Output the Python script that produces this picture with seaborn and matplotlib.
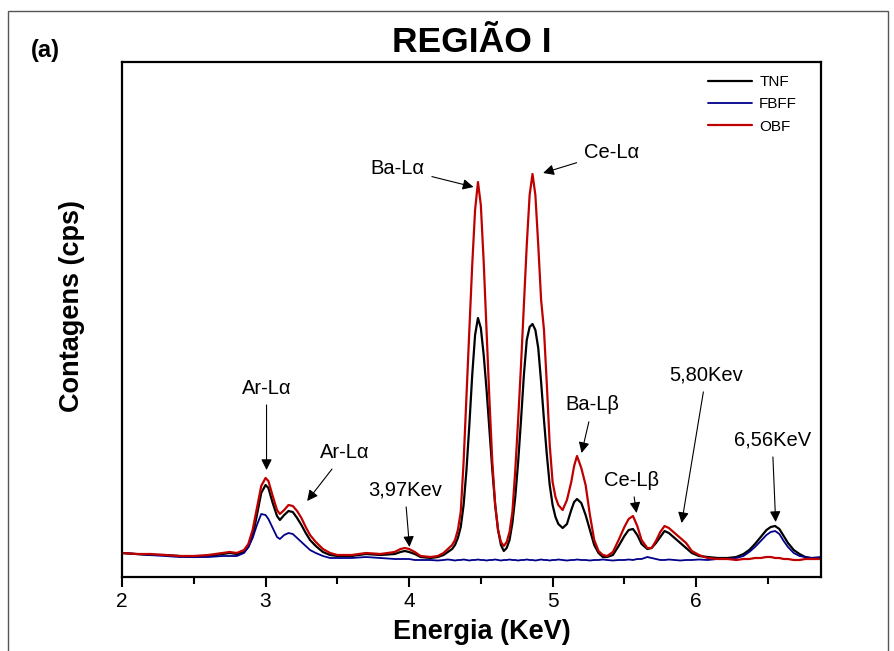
import matplotlib
matplotlib.use("Agg")
import matplotlib.pyplot as plt
import seaborn as sns
import pandas as pd
from matplotlib.patches import Rectangle
from matplotlib.ticker import MultipleLocator

# ---------------- data ----------------
energy = [2.00, 2.10, 2.20, 2.30, 2.40, 2.50, 2.60, 2.70, 2.75, 2.80,
          2.85, 2.88, 2.91, 2.94, 2.97, 3.00, 3.02, 3.05, 3.08, 3.10,
          3.13, 3.16, 3.19, 3.22, 3.25, 3.28, 3.31, 3.35, 3.40, 3.45,
          3.50, 3.60, 3.70, 3.80, 3.90, 3.94, 3.97, 4.00, 4.04, 4.08,
          4.15, 4.20, 4.24, 4.27, 4.30, 4.32, 4.34, 4.36, 4.38, 4.40,
          4.42, 4.44, 4.46, 4.48, 4.50, 4.52, 4.54, 4.56, 4.58, 4.60,
          4.62, 4.64, 4.66, 4.68, 4.70, 4.72, 4.74, 4.76, 4.78, 4.80,
          4.82, 4.84, 4.86, 4.88, 4.90, 4.92, 4.94, 4.96, 4.98, 5.00,
          5.02, 5.04, 5.07, 5.10, 5.13, 5.15, 5.17, 5.20, 5.23, 5.26,
          5.29, 5.32, 5.35, 5.38, 5.42, 5.46, 5.50, 5.53, 5.56, 5.59,
          5.62, 5.66, 5.69, 5.72, 5.75, 5.78, 5.81, 5.85, 5.89, 5.93,
          5.97, 6.02, 6.08, 6.15, 6.22, 6.28, 6.33, 6.37, 6.41, 6.45,
          6.49, 6.52, 6.55, 6.58, 6.61, 6.64, 6.68, 6.72, 6.76, 6.80,
          6.87]

tnf = [240, 230, 220, 220, 210, 200, 210, 230, 240, 230,
       250, 300, 410, 620, 840, 920, 890, 740, 610, 570,
       620, 660, 650, 590, 520, 440, 370, 310, 250, 220,
       210, 210, 230, 220, 230, 250, 260, 250, 230, 200,
       190, 200, 220, 250, 280, 320, 390, 500, 720, 1070,
       1520, 2020, 2420, 2590, 2490, 2220, 1870, 1470, 1070, 720,
       470, 320, 260, 290, 370, 540, 800, 1150, 1570, 2020,
       2370, 2500, 2530, 2470, 2290, 1950, 1570, 1220, 920, 720,
       600, 530, 490, 530, 670, 750, 780, 740, 620, 470,
       320, 240, 200, 200, 220, 310, 410, 470, 480, 420,
       330, 280, 290, 340, 400, 460, 440, 390, 340, 290,
       240, 210, 200, 190, 190, 200, 230, 270, 330, 400,
       470, 500, 510, 480, 410, 340, 270, 230, 200, 190,
       190]

fbff = [240, 230, 220, 210, 200, 200, 200, 210, 210, 210,
        240, 300, 390, 520, 630, 620, 580, 490, 400, 380,
        420, 440, 430, 390, 350, 310, 270, 240, 210, 190,
        190, 190, 200, 190, 180, 180, 180, 180, 170, 170,
        170, 165, 170, 175, 170, 165, 170, 170, 175, 170,
        165, 170, 170, 175, 170, 170, 165, 170, 170, 175,
        170, 165, 170, 170, 175, 170, 170, 165, 170, 170,
        175, 170, 170, 165, 170, 175, 170, 170, 165, 170,
        170, 175, 170, 165, 170, 170, 175, 170, 170, 165,
        170, 170, 175, 170, 165, 170, 170, 175, 170, 180,
        180, 200, 190, 180, 170, 170, 175, 170, 165, 170,
        170, 175, 170, 180, 180, 190, 210, 250, 300, 360,
        420, 450, 460, 430, 360, 300, 240, 210, 200, 190,
        200]

obf = [240, 230, 230, 220, 210, 210, 220, 240, 250, 240,
       270, 330, 470, 690, 910, 990, 960, 810, 670, 630,
       670, 720, 710, 660, 590, 500, 420, 350, 280, 240,
       220, 220, 240, 230, 250, 280, 290, 280, 250, 210,
       200, 210, 240, 280, 320, 370, 470, 650, 1150, 1820,
       2470, 3120, 3670, 3950, 3720, 3150, 2470, 1770, 1150, 720,
       470, 350, 310, 350, 450, 650, 1070, 1570, 2120, 2720,
       3320, 3820, 4030, 3820, 3320, 2770, 2470, 1920, 1320, 950,
       800, 720, 670, 770, 950, 1110, 1210, 1090, 920, 620,
       370, 260, 220, 210, 250, 370, 500, 580, 610, 510,
       370, 290, 290, 360, 450, 510, 490, 440, 390, 340,
       260, 220, 190, 180, 180, 170, 180, 180, 190, 190,
       200, 200, 190, 190, 180, 180, 170, 170, 180, 180,
       180]

series_names = ["TNF", "FBFF", "OBF"]
series_colors = ["#000000", "#00008B", "#C00000"]

x_ticks = [2, 3, 4, 5, 6]

# annotations: label, text position (keV, cps), arrow tip (keV, cps)
ann_labels = ["Ar-L\u03b1", "Ar-L\u03b1", "3,97Kev", "Ba-L\u03b1", "Ce-L\u03b1",
              "Ba-L\u03b2", "Ce-L\u03b2", "5,80Kev", "6,56KeV"]
ann_text_x = [3.007, 3.55, 3.97, 3.92, 5.41, 5.28, 5.55, 6.07, 6.53]
ann_text_y = [1890, 1240, 870, 4090, 4250, 1720, 970, 2020, 1370]
ann_tip_x = [3.007, 3.29, 4.003, 4.449, 4.934, 5.202, 5.585, 5.899, 6.554]
ann_tip_y = [1070, 760, 300, 3900, 4040, 1240, 640, 540, 550]

# ---------------- figure ----------------
df = pd.DataFrame({"Energia": energy, "TNF": tnf, "FBFF": fbff, "OBF": obf})
long = df.melt(id_vars="Energia", value_vars=series_names,
               var_name="Amostra", value_name="Contagens")

sns.set_style("ticks")
plt.rcParams["font.family"] = ["Liberation Sans", "DejaVu Sans"]
plt.rcParams["text.color"] = "black"
plt.rcParams["axes.labelcolor"] = "black"
plt.rcParams["xtick.color"] = "black"
plt.rcParams["ytick.color"] = "black"

fig = plt.figure(figsize=(8.94, 6.51), dpi=100)
ax = fig.add_axes([122 / 894, 1 - 577 / 651, (821 - 122) / 894, (577 - 62) / 651])

sns.lineplot(data=long, x="Energia", y="Contagens", hue="Amostra",
             hue_order=series_names, palette=series_colors,
             estimator=None, sort=False, linewidth=1.6, ax=ax)
for ln in ax.lines:
    if ln.get_color().lower() in ("#00008b",):
        ln.set_linewidth(1.3)

ax.set_xlim(2, 6.87)
ax.set_ylim(0, 5150)
ax.set_yticks([])
ax.set_xticks(x_ticks)
ax.xaxis.set_minor_locator(MultipleLocator(0.5))
ax.tick_params(axis="x", which="major", direction="out", length=7.5,
               width=1.5, labelsize=15, pad=3, color="black", labelcolor="black")
ax.tick_params(axis="x", which="minor", direction="out", length=5,
               width=1.5, color="black")
for sp in ax.spines.values():
    sp.set_visible(True)
    sp.set_linewidth(1.6)
    sp.set_color("black")

ax.set_xlabel("Energia (KeV)", fontsize=19.5, fontweight="bold", va="center",
              color="black")
ax.xaxis.set_label_coords((482 - 122) / 699, -(632 - 577) / 515)
ax.set_ylabel("Contagens (cps)", fontsize=19.5, fontweight="bold", va="center",
              color="black")
ax.yaxis.set_label_coords(-(122 - 72) / 699, (577 - 306) / 515)
ax.set_title("REGI\u00c3O I", fontsize=25.5, fontweight="bold",
             y=(577 - 42) / 515, va="center", pad=0, color="black")

handles, labels = ax.get_legend_handles_labels()
ax.legend(handles, labels, loc="upper left",
          bbox_to_anchor=((708 - 122) / 699, (577 - 75) / 515),
          frameon=False, fontsize=11, handlelength=2.9,
          handletextpad=0.45, labelspacing=0.55, borderpad=0, borderaxespad=0)

for lab, tx, ty, px, py in zip(ann_labels, ann_text_x, ann_text_y, ann_tip_x, ann_tip_y):
    ax.annotate(lab, xy=(px, py), xytext=(tx, ty), ha="center", va="center",
                fontsize=14.5, color="black",
                arrowprops=dict(arrowstyle="-|>", color="black", lw=0.8,
                                mutation_scale=16, shrinkA=3, shrinkB=0))

fig.text(45 / 894, 1 - 51 / 651, "(a)", fontsize=17, fontweight="bold",
         ha="center", va="center", color="black")

fig.patches.append(Rectangle((8 / 894, -0.02), (888 - 8) / 894, 1.02 - 11 / 651,
                             transform=fig.transFigure, fill=False,
                             edgecolor="#555555", linewidth=1.0))

fig.savefig("out.png", dpi=100)
